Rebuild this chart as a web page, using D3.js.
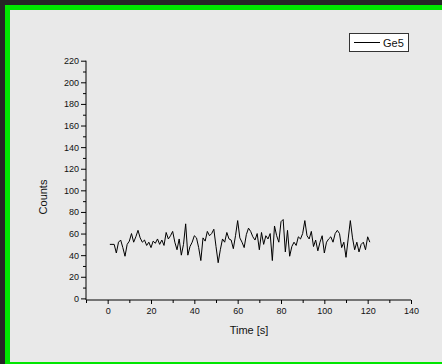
<!DOCTYPE html>
<html><head><meta charset="utf-8">
<script src="https://cdn.jsdelivr.net/npm/d3@7/dist/d3.min.js"></script>
<style>html,body{margin:0;padding:0;background:#262626;}svg{display:block;}</style>
</head><body>
<script>
const seriesName = "Ge5";
const xTickValues = [0, 20, 40, 60, 80, 100, 120, 140];
const yTickValues = [0, 20, 40, 60, 80, 100, 120, 140, 160, 180, 200, 220];
const times = d3.range(1, 122);
const counts = [50,50,50,42,52,54,47,39,50,53,60,52,57,63,56,52,54,49,52,47,
53,51,55,50,54,49,61,55,58,62,52,45,55,40,50,69,40,48,52,58,
56,47,35,56,53,62,58,60,64,48,33,45,55,52,61,55,54,46,58,72,
56,52,47,59,65,62,57,54,60,45,61,50,58,55,60,35,67,58,52,71,
73,43,63,39,48,52,49,57,55,60,72,58,55,62,48,54,44,52,58,42,
52,55,57,52,60,63,60,47,52,38,55,72,56,45,52,43,50,52,45,57,52];

const W = 442, H = 364;
const svg = d3.select("body").append("svg").attr("width", W).attr("height", H);
svg.append("rect").attr("x",0).attr("y",0).attr("width",W).attr("height",H).attr("fill","#262626");
svg.append("rect").attr("x",5).attr("y",5).attr("width",W-5).attr("height",H-5).attr("fill","#00e600");
svg.append("rect").attr("x",10).attr("y",10).attr("width",W-10).attr("height",352).attr("fill","#e9e9e9");

const x = d3.scaleLinear().domain([-10, 140]).range([86, 411]);
const y = d3.scaleLinear().domain([-1.5, 220]).range([300, 60.7]);
const font = "'Liberation Sans', Arial, sans-serif";

// y axis
const yAxis = svg.append("g").attr("transform", "translate(86,0)")
  .call(d3.axisLeft(y).tickValues(yTickValues).tickSize(5).tickPadding(2));
svg.append("g").attr("transform", "translate(86,0)")
  .call(d3.axisLeft(y).tickValues(d3.range(10, 220, 20)).tickSize(3).tickFormat(""))
  .select(".domain").remove();
// x axis
const xAxis = svg.append("g").attr("transform", "translate(0,300)")
  .call(d3.axisBottom(x).tickValues(xTickValues).tickSize(4).tickPadding(4));
svg.append("g").attr("transform", "translate(0,300)")
  .call(d3.axisBottom(x).tickValues(d3.range(-10, 140, 20)).tickSize(3).tickFormat(""))
  .select(".domain").remove();

svg.selectAll(".domain").attr("stroke", "#000").attr("d", function(){ return d3.select(this).attr("d"); });
yAxis.select(".domain").attr("d", `M0,${y(220)}V300`);
xAxis.select(".domain").attr("d", `M86,0H411`);
svg.selectAll(".tick line").attr("stroke", "#000");
svg.selectAll(".tick text").attr("font-family", font).attr("font-size", 9).attr("fill", "#111");

// line
const line = d3.line().x((d, i) => x(times[i])).y(d => y(d));
svg.append("path").datum(counts).attr("d", line)
  .attr("fill", "none").attr("stroke", "#000").attr("stroke-width", 1);

// titles
svg.append("text").attr("x", 249).attr("y", 334).attr("text-anchor", "middle")
  .attr("font-family", font).attr("font-size", 11).attr("fill", "#111").text("Time [s]");
svg.append("text").attr("transform", "translate(47,197) rotate(-90)").attr("text-anchor", "middle")
  .attr("font-family", font).attr("font-size", 11).attr("fill", "#111").text("Counts");

// legend
const lg = svg.append("g");
lg.append("rect").attr("x", 349.5).attr("y", 33.5).attr("width", 59).attr("height", 18)
  .attr("fill", "#fff").attr("stroke", "#333").attr("stroke-width", 1);
lg.append("line").attr("x1", 354).attr("x2", 380).attr("y1", 42.5).attr("y2", 42.5)
  .attr("stroke", "#000").attr("stroke-width", 1);
lg.append("text").attr("x", 383).attr("y", 46.5).attr("font-family", font).attr("font-size", 11)
  .attr("fill", "#111").text(seriesName);
</script>
</body></html>
